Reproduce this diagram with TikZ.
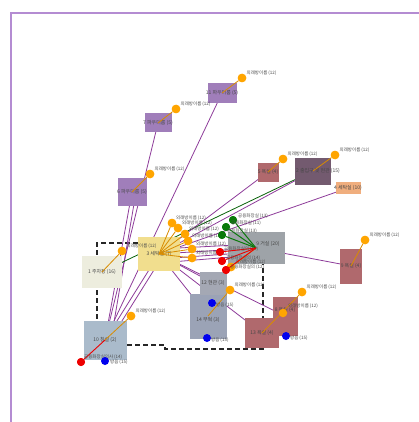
\documentclass[tikz,border=0pt]{standalone}
\usepackage{fontspec}
\setmainfont{Noto Sans CJK KR}
\usetikzlibrary{backgrounds}
\definecolor{frm}{HTML}{B48CD2}
\definecolor{cpur}{HTML}{A07EBA}
\definecolor{cyel}{HTML}{F1DE8E}
\definecolor{cbei}{HTML}{EDEDDE}
\definecolor{cgry}{HTML}{9EA3A8}
\definecolor{cred}{HTML}{B0696D}
\definecolor{cmau}{HTML}{735A6F}
\definecolor{cora}{HTML}{F0AE7E}
\definecolor{cg12}{HTML}{A4A8B4}
\definecolor{cg14}{HTML}{9BA3B6}
\definecolor{cb10}{HTML}{AABBCB}
\definecolor{lpur}{HTML}{8E3C9A}
\definecolor{dora}{HTML}{FFA500}
\definecolor{dgrn}{HTML}{0A7A0A}
\definecolor{dred}{HTML}{EE0000}
\definecolor{dblu}{HTML}{0000EE}
\tikzset{
  roombox/.style n args={3}{draw=none, inner sep=0pt, minimum width=#1, minimum height=#2, fill=#3},
  rlbl/.style={inner sep=0pt, text=black!72, font=\fontsize{5}{5}\selectfont},
  tlbl/.style={inner sep=0pt, anchor=west, text=black!70, font=\fontsize{4.5}{4.5}\selectfont},
  conn/.style={draw=lpur, line width=0.8pt},
  gconn/.style={draw=dgrn!80!black, line width=0.8pt},
  spoke/.style={draw=dora!85!black, line width=0.8pt},
  gspoke/.style={draw=dgrn, line width=1pt},
  rspoke/.style={draw=dred, line width=0.9pt},
  odot/.style={circle, inner sep=0pt, minimum size=8.5pt, fill=dora},
  gdot/.style={circle, inner sep=0pt, minimum size=8pt, fill=dgrn},
  rdot/.style={circle, inner sep=0pt, minimum size=8pt, fill=dred},
  bdot/.style={circle, inner sep=0pt, minimum size=8pt, fill=dblu},
  wall/.style={draw=black!85, line width=1.6pt, dash pattern=on 5pt off 3pt},
}
\begin{document}
\begin{tikzpicture}[x=1pt,y=-1pt]
\useasboundingbox (0,0) rectangle (418,422);

% rooms
\node[roombox={40pt}{32pt}{cbei}] (b1) at (102,272) {};
\node[roombox={42pt}{34pt}{cyel}] (b3) at (159,254) {};
\node[roombox={57pt}{32pt}{cgry}] (b9g) at (256,248) {};
\node[roombox={29pt}{20pt}{cpur}] (b11) at (222,93) {};
\node[roombox={27pt}{19pt}{cpur}] (b7) at (158,123) {};
\node[roombox={29pt}{28pt}{cpur}] (b6) at (132,192) {};
\node[roombox={21pt}{19pt}{cred}] (b5) at (268,172) {};
\node[roombox={36pt}{27pt}{cmau}] (b2) at (313,171) {};
\node[roombox={25pt}{12pt}{cora}] (b4) at (348,188) {};
\node[roombox={22pt}{35pt}{cred}] (b9) at (351,266) {};
\node[roombox={37pt}{45pt}{cg14}] (b14) at (208,316) {};
\node[roombox={27pt}{23pt}{cg12}] (b12) at (213,283) {};
\node[roombox={25pt}{39pt}{cred}] (b8) at (285,316) {};
\node[roombox={34pt}{30pt}{cred}] (b13) at (262,333) {};
\node[roombox={43pt}{39pt}{cb10}] (b10) at (105,340) {};

% walls (dashed)
\coordinate (w1) at (138,243);
\coordinate (w2) at (97,243);
\coordinate (w3) at (97,320);
\coordinate (w4) at (127,345);
\coordinate (w5) at (165,345);
\coordinate (w6) at (165,349);
\coordinate (w7) at (263,349);
\coordinate (w8) at (263,264);
\begin{scope}[on background layer]
\fill[white] (0,0) rectangle (418,422);
\draw[frm, line width=2.3pt] (11,423) -- (11,13) -- (419,13);
\draw[wall] (w1) -- (w2) -- (w3);
\draw[wall] (w4) -- (w5) -- (w6) -- (w7) -- (w8);
% connectors
\draw[conn] (b10.center) -- (b6.center);
\draw[conn] ([xshift=6pt]b10.center) -- ([xshift=4pt]b6.center);
\draw[conn] (b10.center) -- (b7.center);
\draw[conn] (b10.center) -- (b11.center);
\draw[conn] (b10.center) -- (b3.center);
\draw[conn] ([xshift=5pt]b10.center) -- ([xshift=5pt]b3.center);
\draw[gconn] (b1.center) -- (b2.center);
\draw[conn] (b3.center) -- (b5.center);
\draw[conn] (b3.center) -- (b2.center);
\draw[conn] (b3.center) -- (b4.center);
\draw[conn] (b3.center) -- (b9g.center);
\draw[conn] ([yshift=5pt]b3.center) -- ([yshift=4pt]b9g.center);
\draw[conn] ([yshift=-5pt]b3.center) -- ([yshift=-4pt]b9g.center);
\draw[conn] ([yshift=-9pt]b3.center) -- ([yshift=-7pt]b9g.center);
\draw[conn] (b3.center) -- (b12.center);
\draw[conn] (b3.center) -- (b14.center);
\draw[conn] (b3.center) -- (b13.center);
\draw[conn] (b3.center) -- (b8.center);
\draw[conn] (b9g.center) -- (b9.center);
\end{scope}

% room labels
\node[rlbl] at (b1) {1 주차장 (16)};
\node[rlbl] at (b3) {3 세탁실 (7)};
\node[rlbl] at ([xshift=12pt,yshift=4pt]b9g.center) {9 거실 (20)};
\node[rlbl] at (b11) {11 파우더룸 (5)};
\node[rlbl] at (b7) {7 파우더룸 (5)};
\node[rlbl] at (b6) {6 파우더룸 (5)};
\node[rlbl] at (b5) {5 욕실 (4)};
\node[rlbl] at ([xshift=5pt]b2.center) {2 출입구 및 현관 (15)};
\node[rlbl] at (b4) {4 세탁실 (10)};
\node[rlbl] at (b9) {9 욕실 (4)};
\node[rlbl] at (b12) {12 현관 (3)};
\node[rlbl] at ([yshift=-4pt]b14.center) {14 부엌 (3)};
\node[rlbl] at ([yshift=6pt]b8.center) {8 욕실 (4)};
\node[rlbl] at (b13) {13 욕실 (4)};
\node[rlbl] at (b10) {10 침실 (2)};

% spokes: orange
\foreach \n/\x/\y in {b11/242/78, b7/176/109, b6/150/174, b5/283/159, b2/335/155, b9/365/240, b1/122/251, b10/131/316, b14/230/290, b9g/231/267, b13/302/292}{
  \node[odot] (o\n) at (\x,\y) {};
  \draw[spoke] (\n.center) -- (o\n);
  \node[odot] at (o\n) {};
  \node[tlbl] (t\n) at (\x+4.5,\y-5) {외래방이름 (12)};
}
\node[odot] (ob8) at (283,313) {};
\node[tlbl] (tb8) at (288,306) {외래방이름 (12)};
% yellow room spokes
\foreach \i/\x/\y in {1/172/223, 2/178/228, 3/185/234, 4/188/241, 5/192/249, 6/192/258}{
  \node[odot] (y\i) at (\x,\y) {};
  \draw[spoke] (b3.center) -- (y\i);
  \node[odot] at (y\i) {};
  \node[tlbl] (ty\i) at (\x+4,\y-5) {외래방이름 (12)};
}
% green spokes
\foreach \i/\x/\y/\t in {1/233/220/공용화장실 (13), 2/226/227/공용화장실 (11), 3/222/235/공용화장실 (13)}{
  \node[gdot] (g\i) at (\x,\y) {};
  \draw[gspoke] (b9g.center) -- (g\i);
  \node[gdot] at (g\i) {};
  \node[tlbl] (tg\i) at (\x+5,\y-4) {\t};
}
% red spokes
\foreach \i/\x/\y/\t in {1/220/252/공용화장실의 (14), 2/222/261/공용화장실의 (14), 3/226/270/공용화장실의 (12)}{
  \node[rdot] (r\i) at (\x,\y) {};
  \draw[rspoke] (b9g.center) -- (r\i);
  \node[rdot] at (r\i) {};
  \node[tlbl] (tr\i) at (\x+4,\y-3) {\t};
}
% room 10 extra
\node[rdot] (r10) at (81,362) {};
\draw[rspoke] (b10.center) -- (r10);
\node[rdot] at (r10) {};
\node[tlbl] (tr10) at (84,357) {공용화장실의사 (14)};
\node[bdot] (bl10) at (105,361) {};
\node[tlbl] (tbl10) at (110,362) {방음 (15)};
% blue dots
\node[bdot] (bl14a) at (212,303) {};
\node[tlbl] (tbl14a) at (216,305) {방음 (15)};
\node[bdot] (bl14b) at (207,338) {};
\node[tlbl] (tbl14b) at (211,340) {방음 (15)};
\node[bdot] (bl8) at (286,336) {};
\node[tlbl] (tbl8) at (290,338) {방음 (15)};
\end{tikzpicture}
\end{document}
